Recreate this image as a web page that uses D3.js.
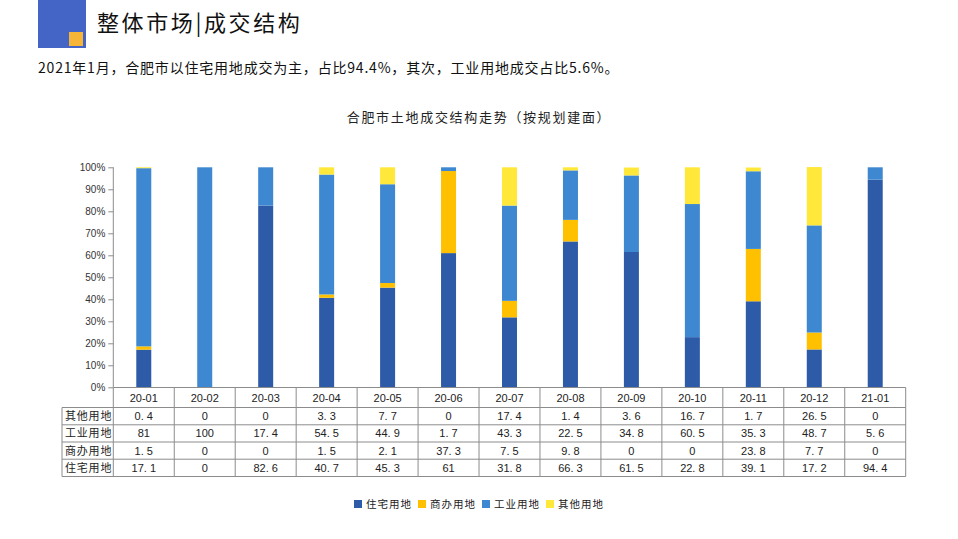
<!DOCTYPE html>
<html><head><meta charset="utf-8">
<script src="https://cdn.jsdelivr.net/npm/d3@7/dist/d3.min.js"></script>
<style>
html,body{margin:0;padding:0;background:#fff;}
svg{display:block;font-family:"Noto Sans CJK SC","Liberation Sans",sans-serif;}
</style></head>
<body><svg id="chart" width="958" height="539"></svg>
<script>
const months = ["20-01","20-02","20-03","20-04","20-05","20-06","20-07","20-08","20-09","20-10","20-11","20-12","21-01"];
const residential = [17.1,0,82.6,40.7,45.3,61,31.8,66.3,61.5,22.8,39.1,17.2,94.4];
const commercial  = [1.5,0,0,1.5,2.1,37.3,7.5,9.8,0,0,23.8,7.7,0];
const industrial  = [81,100,17.4,54.5,44.9,1.7,43.3,22.5,34.8,60.5,35.3,48.7,5.6];
const other       = [0.4,0,0,3.3,7.7,0,17.4,1.4,3.6,16.7,1.7,26.5,0];
const seriesNames = ["住宅用地","商办用地","工业用地","其他用地"];
const seriesColors = ["#2E5BA8","#FFC000","#3D88D0","#FFE83A"];
const yTicks = [0,10,20,30,40,50,60,70,80,90,100];
const tableRowNames = ["其他用地","工业用地","商办用地","住宅用地"];

const svg = d3.select("#chart");

// header
svg.append("rect").attr("x",38).attr("y",0).attr("width",48).attr("height",48).attr("fill","#4565C6");
svg.append("rect").attr("x",69).attr("y",32).attr("width",14).attr("height",14).attr("fill","#F7B538");
svg.append("text").attr("x",97).attr("y",31).attr("font-size",22).attr("letter-spacing",2.6)
  .attr("fill","#111").text("整体市场|成交结构");
svg.append("text").attr("x",38).attr("y",73).attr("font-size",14).attr("letter-spacing",0.8).attr("fill","#111")
  .text("2021年1月，合肥市以住宅用地成交为主，占比94.4%，其次，工业用地成交占比5.6%。");
svg.append("text").attr("x",479).attr("y",122).attr("text-anchor","middle").attr("font-size",13)
  .attr("letter-spacing",1.7).attr("fill","#222").text("合肥市土地成交结构走势（按规划建面）");

// scales
const x0 = 113.3, x1 = 905.7, yTop = 167.3, yBot = 387.3;
const step = (x1 - x0) / months.length;
const pIn = 1 - 15 / step;
const x = d3.scaleBand().domain(months).range([x0, x1]).paddingInner(pIn).paddingOuter(pIn/2);
const y = d3.scaleLinear().domain([0,100]).range([yBot, yTop]);

const rows = months.map((m,i)=>({month:m, "住宅用地":residential[i], "商办用地":commercial[i], "工业用地":industrial[i], "其他用地":other[i]}));
const stack = d3.stack().keys(seriesNames)(rows);

svg.append("g").selectAll("g").data(stack).join("g")
  .attr("fill",(d,i)=>seriesColors[i])
  .selectAll("rect").data(d=>d).join("rect")
  .attr("x",d=>x(d.data.month)).attr("width",x.bandwidth())
  .attr("y",d=>y(d[1])).attr("height",d=>Math.max(0,y(d[0])-y(d[1])));

// y axis
const yAxis = svg.append("g").attr("transform",`translate(${x0},0)`)
  .call(d3.axisLeft(y).tickValues(yTicks).tickFormat(d=>d+"%").tickSize(5).tickSizeOuter(0));
yAxis.selectAll("path,line").attr("stroke","#8c8c8c");
yAxis.selectAll("text").attr("font-family","'Liberation Sans',Arial,sans-serif").attr("font-size",10).attr("fill","#333").attr("x",-8);
yAxis.select(".domain").remove();
svg.append("line").attr("x1",x0).attr("x2",x0).attr("y1",yTop).attr("y2",yBot).attr("stroke","#8c8c8c");

// table
const lineColor = "#8c8c8c";
const tLeft = 62;
const rowY = [387.5, 407.5, 424.8, 442, 459.2, 476.5];
const tg = svg.append("g");
tg.append("line").attr("x1",x0).attr("x2",x1).attr("y1",rowY[0]).attr("y2",rowY[0]).attr("stroke",lineColor);
for (let r=1;r<rowY.length;r++){
  tg.append("line").attr("x1",tLeft).attr("x2",x1).attr("y1",rowY[r]).attr("y2",rowY[r]).attr("stroke",lineColor);
}
tg.append("line").attr("x1",tLeft).attr("x2",tLeft).attr("y1",rowY[1]).attr("y2",rowY[5]).attr("stroke",lineColor);
for (let i=0;i<=months.length;i++){
  const xx = x0 + i*step;
  tg.append("line").attr("x1",xx).attr("x2",xx).attr("y1",rowY[0]).attr("y2",rowY[5]).attr("stroke",lineColor);
}
// header cells
tg.selectAll("text.m").data(months).join("text").attr("class","m")
  .attr("x",d=>x(d)+x.bandwidth()/2).attr("y",(rowY[0]+rowY[1])/2+4)
  .attr("text-anchor","middle").attr("font-size",11).attr("fill","#222")
  .attr("font-family","'Liberation Sans',Arial,sans-serif").text(d=>d);
const tableData = [other, industrial, commercial, residential];
tableData.forEach((arr,r)=>{
  const cy = (rowY[r+1]+rowY[r+2])/2 + 4;
  tg.append("text").attr("x",tLeft+3).attr("y",cy).attr("font-size",11).attr("letter-spacing",0.8)
    .attr("fill","#222").text(tableRowNames[r]);
  tg.selectAll(null).data(arr).join("text")
    .attr("x",(d,i)=>x(months[i])+x.bandwidth()/2).attr("y",cy)
    .attr("text-anchor","middle").attr("font-size",11).attr("fill","#222")
    .attr("font-family","'Liberation Sans',Arial,sans-serif")
    .text(d=>String(d).replace(".",". "));
});

// legend
const legX = [354,418,482,546];
const lg = svg.append("g");
seriesNames.forEach((n,i)=>{
  lg.append("rect").attr("x",legX[i]).attr("y",500).attr("width",8).attr("height",8).attr("fill",seriesColors[i]);
  lg.append("text").attr("x",legX[i]+12).attr("y",508).attr("font-size",10.5).attr("letter-spacing",1)
    .attr("fill","#222").text(n);
});
</script></body></html>
